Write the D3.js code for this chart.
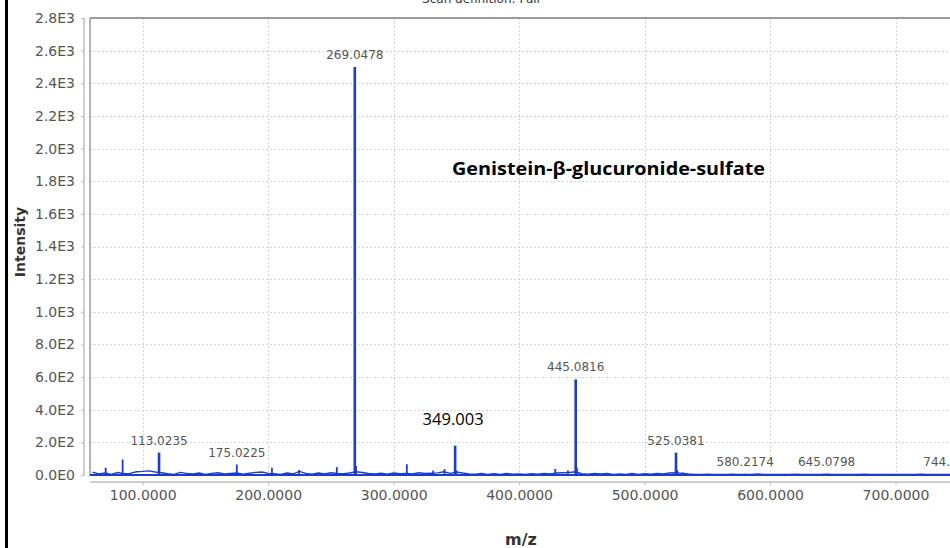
<!DOCTYPE html>
<html>
<head>
<meta charset="utf-8">
<script src="https://cdn.jsdelivr.net/npm/d3@7"></script>
<style>
  body { margin: 0; background: #fff; overflow: hidden; }
  svg { display: block; }
</style>
</head>
<body>
<svg id="chart" width="950" height="548"></svg>
<script>
// Profile baseline (noise) sampled every 5 m/z starting at m/z 60
const baselineStartMz = 60;
const baselineStepMz = 5;
const baselineIntensity = [
  18, 6, 12, 4, 15, 8, 10, 20, 22, 25,
  18, 14, 8, 4, 16, 10, 6, 12, 3, 10,
  14, 6, 9, 12, 5, 11, 16, 18, 10, 8,
  4, 12, 7, 22, 10, 5, 12, 6, 14, 9,
  8, 12, 20, 15, 9, 6, 11, 5, 12, 8,
  10, 6, 14, 9, 11, 13, 20, 10, 18, 12,
  7, 5, 10, 4, 8, 3, 9, 5, 7, 3,
  8, 5, 9, 6, 12, 14, 15, 20, 8, 5,
  9, 6, 10, 4, 7, 3, 9, 4, 8, 5,
  10, 6, 12, 14, 10, 6, 4, 3, 5, 3,
  4, 3, 5, 4, 3, 4, 6, 3, 4, 3,
  4, 3, 5, 3, 4, 3, 4, 5, 3, 4,
  3, 4, 3, 5, 3, 4, 3, 4, 3, 4,
  3, 4, 5, 3, 4, 3, 4, 3, 5, 3,
  4, 3, 4, 3, 4, 3, 4, 3, 4
];

// Centroided peaks: m/z and intensity
const peakMz = [
  70.5, 84.0, 113.0235, 175.0225, 203.0, 224.6, 254.7, 269.0478, 270.05,
  310.5, 331.5, 340.5, 349.003, 350.0, 428.8, 438.9, 445.0816, 446.08,
  525.0381, 526.04, 530.6, 580.2174, 645.0798, 744.9183
];
const peakIntensity = [
  45, 95, 137, 64, 45, 30, 48, 2500, 55,
  66, 27, 36, 180, 28, 37, 27, 586, 45,
  137, 30, 16, 8, 7, 6
];

// Peaks annotated with their m/z (grey, 4 decimals)
const annotatedMz = [113.0235, 175.0225, 269.0478, 445.0816, 525.0381, 580.2174, 645.0798, 744.9183];
// Peak highlighted with a separate black annotation
const highlightMz = 349.003;

const xTickValues = [100, 200, 300, 400, 500, 600, 700];
const yTickValues = [0, 200, 400, 600, 800, 1000, 1200, 1400, 1600, 1800, 2000, 2200, 2400, 2600, 2800];

const compoundName = "Genistein-\u03b2-glucuronide-sulfate";
const plotTitle = "Scan definition: Full";

const svg = d3.select("#chart");
svg.append("rect").attr("width", 950).attr("height", 548).attr("fill", "#fff");

const plot = { left: 90, top: 18, right: 1021, bottom: 476 };
const x = d3.scaleLinear().domain([58, 800]).range([plot.left, plot.right]);
const y = d3.scaleLinear().domain([0, 2800]).range([475, plot.top]);

const tickFont = "'DejaVu Sans', Verdana, sans-serif";

// Outer frame line on the left
svg.append("line")
  .attr("x1", 6.5).attr("x2", 6.5).attr("y1", 0).attr("y2", 548)
  .attr("stroke", "#000").attr("stroke-width", 3);

// Title (partly above the visible area)
svg.append("text")
  .attr("x", 481).attr("y", 3)
  .attr("text-anchor", "middle")
  .attr("font-family", tickFont).attr("font-size", 12)
  .attr("fill", "#333")
  .text(plotTitle);

// Gridlines
const grid = svg.append("g").attr("stroke", "#d4d4d4").attr("stroke-width", 1).attr("stroke-dasharray", "2,2");
grid.selectAll("line.h").data(yTickValues.filter(v => v > 0 && v < 2800)).join("line")
  .attr("x1", plot.left).attr("x2", plot.right)
  .attr("y1", d => Math.round(y(d)) + 0.5).attr("y2", d => Math.round(y(d)) + 0.5);
grid.selectAll("line.v").data(xTickValues).join("line")
  .attr("x1", d => Math.round(x(d)) + 0.5).attr("x2", d => Math.round(x(d)) + 0.5)
  .attr("y1", plot.top).attr("y2", plot.bottom);

// Plot frame
svg.append("line").attr("x1", plot.left).attr("x2", plot.right)
  .attr("y1", plot.top).attr("y2", plot.top)
  .attr("stroke", "#9a9a9a").attr("stroke-width", 2);
svg.append("line").attr("x1", plot.left).attr("x2", plot.left)
  .attr("y1", plot.top).attr("y2", plot.bottom)
  .attr("stroke", "#9a9a9a").attr("stroke-width", 1.5);

// Axes
const yAxis = d3.axisLeft(y)
  .tickValues(yTickValues)
  .tickSize(3).tickPadding(6)
  .tickFormat(v => {
    if (v === 0) return "0.0E0";
    const e = Math.floor(Math.log10(v));
    return (v / Math.pow(10, e)).toFixed(1) + "E" + e;
  });
const gy = svg.append("g").attr("transform", "translate(84,0)").call(yAxis);
gy.select(".domain").attr("stroke", "#cfcfcf").attr("stroke-width", 2)
  .attr("d", `M0,${plot.top}V${plot.bottom}`);
gy.selectAll(".tick line").attr("stroke", "#bbb");
gy.selectAll(".tick text").attr("font-family", tickFont).attr("font-size", 14).attr("fill", "#555");

const xAxis = d3.axisBottom(x)
  .tickValues(xTickValues)
  .tickSize(3).tickPadding(5)
  .tickFormat(d3.format(".4f"));
const gx = svg.append("g").attr("transform", "translate(0,482)").call(xAxis);
gx.select(".domain").attr("stroke", "#cfcfcf").attr("stroke-width", 2)
  .attr("d", `M${plot.left},0H${plot.right}`);
gx.selectAll(".tick line").attr("stroke", "#bbb");
gx.selectAll(".tick text").attr("font-family", tickFont).attr("font-size", 14).attr("fill", "#555");

// Axis titles
svg.append("text")
  .attr("transform", "translate(25,242) rotate(-90)")
  .attr("text-anchor", "middle")
  .attr("font-family", tickFont).attr("font-size", 14).attr("font-weight", "bold")
  .attr("fill", "#333")
  .text("Intensity");
svg.append("text")
  .attr("x", 521).attr("y", 545)
  .attr("text-anchor", "middle")
  .attr("font-family", tickFont).attr("font-size", 16).attr("font-weight", "bold")
  .attr("fill", "#333")
  .text("m/z");

// Spectrum
svg.append("clipPath").attr("id", "plotClip")
  .append("rect").attr("x", plot.left).attr("y", plot.top - 2)
  .attr("width", plot.right - plot.left).attr("height", plot.bottom - plot.top + 4);

const spec = svg.append("g").attr("clip-path", "url(#plotClip)");
const blue = "#1b3bd1";

spec.append("line")
  .attr("x1", plot.left).attr("x2", plot.right)
  .attr("y1", y(0)).attr("y2", y(0))
  .attr("stroke", blue).attr("stroke-width", 2);
const baselinePts = baselineIntensity.map((v, i) => [baselineStartMz + i * baselineStepMz, v]);
spec.append("path")
  .datum(baselinePts)
  .attr("fill", "none").attr("stroke", blue).attr("stroke-width", 1.4)
  .attr("d", d3.line().x(d => x(d[0])).y(d => y(d[1])));

const peaks = peakMz.map((m, i) => ({ mz: m, h: peakIntensity[i] }));
spec.selectAll("line.peak").data(peaks).join("line")
  .attr("class", "peak")
  .attr("x1", d => x(d.mz)).attr("x2", d => x(d.mz))
  .attr("y1", y(0)).attr("y2", d => y(d.h))
  .attr("stroke", blue).attr("stroke-width", d => d.h > 100 ? 2.6 : 1.8);

// Peak annotations
const peakByMz = new Map(peaks.map(p => [p.mz, p]));
svg.selectAll("text.peakLabel").data(annotatedMz.map(m => peakByMz.get(m))).join("text")
  .attr("class", "peakLabel")
  .attr("x", d => x(d.mz)).attr("y", d => y(d.h) - 8)
  .attr("text-anchor", "middle")
  .attr("font-family", tickFont).attr("font-size", 12)
  .attr("fill", "#555")
  .text(d => d.mz.toFixed(4));

const hp = peakByMz.get(highlightMz);
svg.append("text")
  .attr("x", x(hp.mz) - 2).attr("y", y(hp.h) - 21)
  .attr("text-anchor", "middle")
  .attr("font-family", "'Open Sans', 'Liberation Sans', sans-serif").attr("font-size", 16)
  .attr("textLength", 61).attr("lengthAdjust", "spacingAndGlyphs")
  .attr("fill", "#000")
  .text(String(highlightMz));

// Compound name
svg.append("text")
  .attr("x", 452).attr("y", 175)
  .attr("font-family", "'Open Sans', 'Liberation Sans', sans-serif").attr("font-size", 18).attr("font-weight", "bold")
  .attr("textLength", 313).attr("lengthAdjust", "spacingAndGlyphs")
  .attr("fill", "#000")
  .text(compoundName);
</script>
</body>
</html>
